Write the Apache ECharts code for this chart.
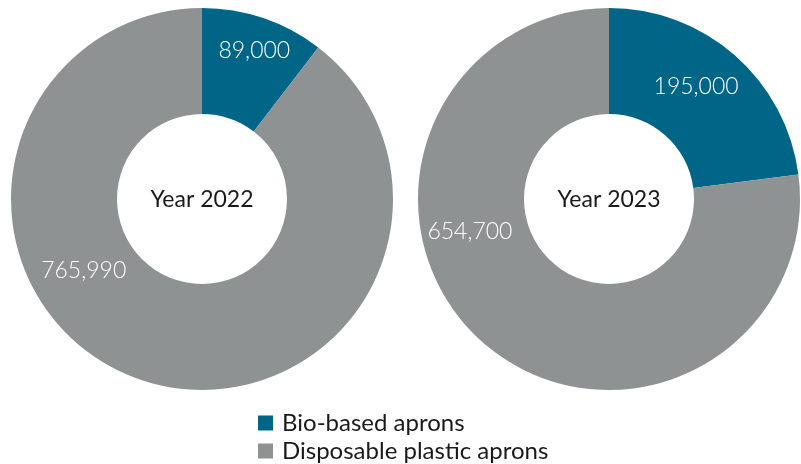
<!DOCTYPE html>
<html>
<head>
<meta charset="utf-8">
<script src="https://cdn.jsdelivr.net/npm/echarts@6/dist/echarts.min.js"></script>
<style>html,body{margin:0;padding:0;background:#fff}#c{width:801px;height:464px}</style>
</head>
<body>
<div id="c"></div>
<script>
var categories = ['Bio-based aprons', 'Disposable plastic aprons'];
var years = ['Year 2022', 'Year 2023'];
var values2022 = [89000, 765990];
var values2023 = [195000, 654700];

var colors = ['#006587', '#8f9293'];
var centers = [[202, 199], [609, 199]];
var labelOffsets = [
  [[7, -15], [-73, -62]],
  [[-6, -7], [-46, -73]]
];
var FONT = 'Lato, "Open Sans", sans-serif';

function fmt(v) { return v.toLocaleString('en-US'); }

function buildData(vals, yi) {
  return vals.map(function (v, i) {
    return {
      name: categories[i],
      value: v,
      itemStyle: { color: colors[i] },
      label: { offset: labelOffsets[yi][i] }
    };
  });
}

var allValues = [values2022, values2023];
var series = allValues.map(function (vals, yi) {
  return {
    type: 'pie',
    center: centers[yi],
    radius: [85, 191],
    startAngle: 90,
    clockwise: true,
    avoidLabelOverlap: false,
    silent: true,
    label: {
      show: true,
      position: 'inside',
      color: '#ffffff',
      fontFamily: FONT,
      fontSize: 23,
      fontWeight: 300,
      formatter: function (p) { return fmt(p.value); }
    },
    labelLine: { show: false },
    itemStyle: { borderWidth: 0 },
    data: buildData(vals, yi)
  };
});

var chart = echarts.init(document.getElementById('c'), null, { renderer: 'canvas' });
chart.setOption({
  animation: false,
  backgroundColor: '#ffffff',
  title: years.map(function (y, i) {
    return {
      text: y,
      left: centers[i][0],
      top: centers[i][1] - 11,
      textAlign: 'center',
      padding: 0,
      textStyle: { fontFamily: FONT, fontSize: 23, fontWeight: 'normal', color: '#1a1a1a' }
    };
  }),
  legend: {
    orient: 'vertical',
    left: 258,
    top: 411,
    height: 60,
    padding: 0,
    itemWidth: 15,
    itemHeight: 15,
    itemGap: 4,
    icon: 'rect',
    data: categories,
    textStyle: { fontFamily: FONT, fontSize: 24, color: '#1a1a1a', padding: [0, 0, 0, 4] },
    selectedMode: false
  },
  series: series
});
</script>
</body>
</html>
